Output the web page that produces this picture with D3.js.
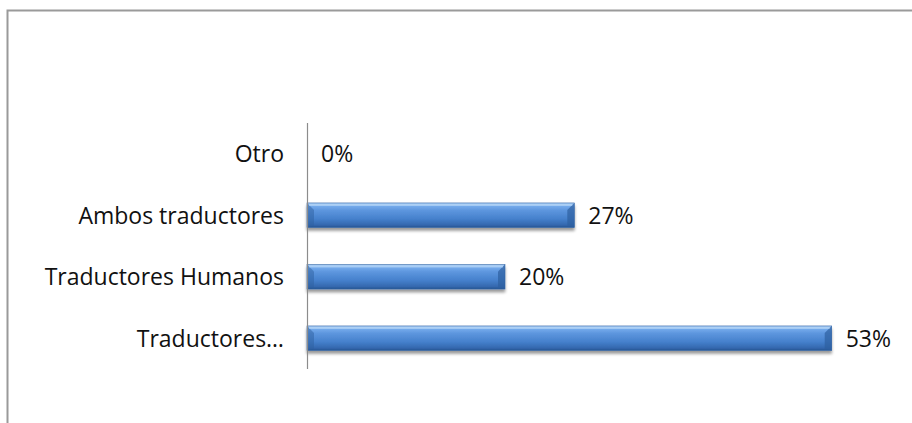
<!DOCTYPE html>
<html>
<head>
<meta charset="utf-8">
<script src="https://cdn.jsdelivr.net/npm/d3@7"></script>
<style>
  html, body { margin: 0; padding: 0; background: #fff; }
  svg { display: block; }
</style>
</head>
<body>
<svg id="chart" width="912" height="423"></svg>
<script>
// Categories listed top to bottom, with their percentages
const categories = ["Otro", "Ambos traductores", "Traductores Humanos", "Traductores…"];
const values = [0, 27, 20, 53];
const valueLabels = ["0%", "27%", "20%", "53%"];

const svg = d3.select("#chart");
const W = 912, H = 423;
const font = "'Open Sans', Lato, sans-serif";
const fontSize = 23;

// Outer chart frame (only top and left edges fall inside the view)
svg.append("path")
  .attr("d", `M7.5,${H} V10.5 H${W}`)
  .attr("fill", "none")
  .attr("stroke", "#9a9a9a")
  .attr("stroke-width", 2);

const x = d3.scaleLinear().domain([0, 60]).range([307, 901]);
const y = d3.scaleBand().domain(categories).range([123, 369]).paddingInner(0.6).paddingOuter(0.3);

const defs = svg.append("defs");
const grad = defs.append("linearGradient").attr("id", "barFill")
  .attr("x1", 0).attr("y1", 0).attr("x2", 0).attr("y2", 1);
[[0, "#a9cdf5"], [0.12, "#75abec"], [0.3, "#5d96de"], [0.65, "#4580cc"], [0.9, "#3468ae"], [1, "#25528f"]]
  .forEach(([o, c]) => grad.append("stop").attr("offset", o).attr("stop-color", c));

const shadow = defs.append("filter").attr("id", "barShadow")
  .attr("x", "-5%").attr("y", "-30%").attr("width", "110%").attr("height", "180%");
shadow.append("feGaussianBlur").attr("in", "SourceAlpha").attr("stdDeviation", 1.8);
shadow.append("feOffset").attr("dx", 0).attr("dy", 2.5).attr("result", "b");
shadow.append("feComponentTransfer").append("feFuncA").attr("type", "linear").attr("slope", 0.4);
const merge = shadow.append("feMerge");
merge.append("feMergeNode");
merge.append("feMergeNode").attr("in", "SourceGraphic");

const rows = categories.map((c, i) => ({ c, v: values[i], label: valueLabels[i] }));

const bars = svg.append("g").selectAll("g")
  .data(rows.filter(d => d.v > 0))
  .join("g");

bars.append("rect")
  .attr("x", x(0))
  .attr("y", d => y(d.c))
  .attr("width", d => x(d.v) - x(0))
  .attr("height", y.bandwidth())
  .attr("fill", "url(#barFill)")
  .attr("stroke", "#3a6aa8")
  .attr("stroke-width", 0.6)
  .attr("filter", "url(#barShadow)");

// Bevel facets at each bar end
const bv = 7;
bars.append("path")
  .attr("d", d => {
    const x1 = x(d.v), y0 = y(d.c), h = y.bandwidth();
    return `M${x1},${y0} L${x1 - bv},${y0 + bv} L${x1 - bv},${y0 + h - 2} L${x1},${y0 + h} Z`;
  })
  .attr("fill", "#2e5f9f").attr("opacity", 0.7);
bars.append("path")
  .attr("d", d => {
    const x0 = x(0), y0 = y(d.c), h = y.bandwidth();
    return `M${x0},${y0} L${x0 + bv},${y0 + bv} L${x0 + bv},${y0 + h - 2} L${x0},${y0 + h} Z`;
  })
  .attr("fill", "#2e5f9f").attr("opacity", 0.5);
bars.append("rect")
  .attr("x", d => x(0) + 2)
  .attr("y", d => y(d.c) + 1)
  .attr("width", d => x(d.v) - x(0) - 4)
  .attr("height", 2)
  .attr("fill", "#c2ddf8").attr("opacity", 0.6);

// Category axis line
svg.append("line")
  .attr("x1", 307.5).attr("x2", 307.5)
  .attr("y1", 123).attr("y2", 369)
  .attr("stroke", "#8c8c8c").attr("stroke-width", 1.2);

// Category labels
svg.append("g").selectAll("text")
  .data(categories)
  .join("text")
  .attr("x", 284)
  .attr("y", d => y(d) + y.bandwidth() / 2)
  .attr("dy", "0.36em")
  .attr("text-anchor", "end")
  .attr("font-family", font)
  .attr("font-size", fontSize)
  .attr("fill", "#111")
  .text(d => d);

// Value labels
svg.append("g").selectAll("text")
  .data(rows)
  .join("text")
  .attr("x", d => x(d.v) + 14)
  .attr("y", d => y(d.c) + y.bandwidth() / 2)
  .attr("dy", "0.36em")
  .attr("font-family", font)
  .attr("font-size", fontSize)
  .attr("fill", "#111")
  .text(d => d.label);
</script>
</body>
</html>
